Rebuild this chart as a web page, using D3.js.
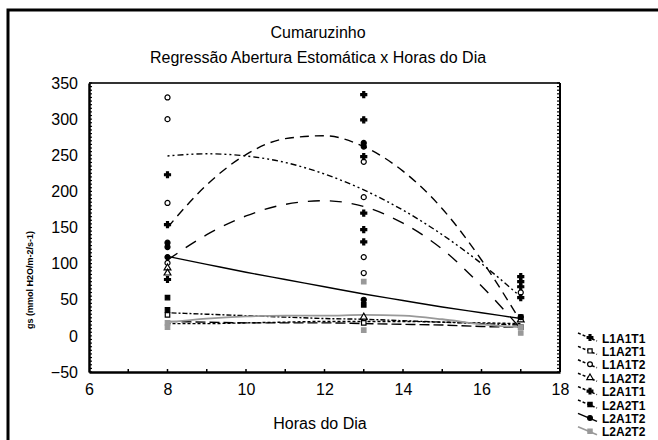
<!DOCTYPE html>
<html>
<head>
<meta charset="utf-8">
<script src="https://cdn.jsdelivr.net/npm/d3@7"></script>
<style>
  body { margin: 0; background: #fff; }
  text { font-family: "Liberation Sans", Arial, sans-serif; fill: #000; }
</style>
</head>
<body>
<script>
var hours = [8, 9, 10, 11, 12, 13, 14, 15, 16, 17];
var xTicks = [6, 8, 10, 12, 14, 16, 18];
var yTicks = [-50, 0, 50, 100, 150, 200, 250, 300, 350];
var names = ["L1A1T1", "L1A2T1", "L1A1T2", "L1A2T2", "L2A1T1", "L2A2T1", "L2A1T2", "L2A2T2"];

// regression curves (value at each hour)
var fitL1A1T1 = [150, 209, 251, 273, 277, 262, 228, 176, 105, 20];
var fitL1A2T1 = [32, 30, 28, 26, 24, 23, 21, 19, 17, 15];
var fitL1A1T2 = [249, 252, 249, 240, 224, 202, 174, 140, 100, 54];
var fitL1A2T2 = [20, 19, 18, 18, 18, 17, 16, 15, 13, 12];
var fitL2A1T1 = [105, 140, 166, 182, 187, 179, 156, 120, 69, 10];
var fitL2A2T1 = [17, 17, 18, 19, 20, 20, 20, 19, 18, 17];
var fitL2A1T2 = [110, 99, 88, 78, 68, 58, 49, 40, 32, 24];
var fitL2A2T2 = [19, 24, 27, 28, 28, 29, 28, 23, 16, 12];

// observations [hour, gs]
var obsL1A1T1 = [[8, 154], [8, 78], [13, 334], [13, 299], [13, 130], [17, 82], [17, 68]];
var obsL1A2T1 = [[8, 29], [13, 18], [17, 12]];
var obsL1A1T2 = [[8, 330], [8, 300], [8, 184], [8, 101], [13, 241], [13, 192], [13, 109], [13, 87], [17, 60]];
var obsL1A2T2 = [[8, 94], [8, 87], [13, 26], [17, 22]];
var obsL2A1T1 = [[8, 223], [13, 248], [13, 170], [13, 147], [17, 75], [17, 53]];
var obsL2A2T1 = [[8, 53], [8, 36], [13, 43], [17, 26]];
var obsL2A1T2 = [[8, 129], [8, 123], [8, 109], [13, 267], [13, 262], [13, 50], [17, 26]];
var obsL2A2T2 = [[8, 18], [8, 12], [13, 75], [13, 8], [17, 12], [17, 4]];

var fits = [fitL1A1T1, fitL1A2T1, fitL1A1T2, fitL1A2T2, fitL2A1T1, fitL2A2T1, fitL2A1T2, fitL2A2T2];
var obs = [obsL1A1T1, obsL1A2T1, obsL1A1T2, obsL1A2T2, obsL2A1T1, obsL2A2T1, obsL2A1T2, obsL2A2T2];

// look of each series
var dashes = ["9,6", "2,2,5,2", "2,3,2,3,6,3", "10,4", "12,10", "3,2", null, null];
var colors = ["#000", "#000", "#000", "#000", "#000", "#000", "#000", "#999"];
var symbols = [d3.symbolCross, d3.symbolSquare, d3.symbolCircle, d3.symbolTriangle,
               d3.symbolCross, d3.symbolSquare, d3.symbolCircle, d3.symbolSquare];
var filled = [true, false, false, false, true, true, true, true];

var W = 658, H = 440;
var margin = {left: 89, right: 98, top: 83, bottom: 68};

var svg = d3.select("body").append("svg")
  .attr("width", W)
  .attr("height", H);

// outer frame
svg.append("rect")
  .attr("x", 8).attr("y", 10)
  .attr("width", W + 20).attr("height", H + 20)
  .attr("fill", "none")
  .attr("stroke", "#000")
  .attr("stroke-width", 3);

var x = d3.scaleLinear().domain([6, 18]).range([margin.left, W - margin.right]);
var y = d3.scaleLinear().domain([-50, 350]).range([H - margin.bottom, margin.top]);

// titles
svg.append("text").attr("x", 318).attr("y", 38)
  .attr("text-anchor", "middle").style("font-size", "16px").text("Cumaruzinho");
svg.append("text").attr("x", 318).attr("y", 63)
  .attr("text-anchor", "middle").style("font-size", "16px")
  .text("Regressão Abertura Estomática x Horas do Dia");

// box
svg.append("line")
  .attr("x1", x(6)).attr("x2", x(18)).attr("y1", y(350)).attr("y2", y(350))
  .attr("stroke", "#333").attr("stroke-width", 2);
svg.append("line")
  .attr("x1", x(18)).attr("x2", x(18)).attr("y1", y(350)).attr("y2", y(-50))
  .attr("stroke", "#000").attr("stroke-width", 2);

// y axis, minor ticks inside
var minor = d3.range(-50, 351, 5);
svg.append("g")
  .selectAll("line").data(minor).join("line")
  .attr("x1", x(6)).attr("x2", x(6) + 3)
  .attr("y1", function(d) { return y(d); }).attr("y2", function(d) { return y(d); })
  .attr("stroke", "#000").attr("stroke-width", 1.2);
svg.append("g")
  .selectAll("line").data(minor).join("line")
  .attr("x1", x(18)).attr("x2", x(18) - 3)
  .attr("y1", function(d) { return y(d); }).attr("y2", function(d) { return y(d); })
  .attr("stroke", "#000").attr("stroke-width", 1.2);

var yAxis = svg.append("g")
  .attr("transform", "translate(" + x(6) + ",0)")
  .call(d3.axisLeft(y).tickValues(yTicks).tickSize(0).tickPadding(11));
yAxis.select(".domain").attr("stroke-width", 2.5);
yAxis.selectAll("text").style("font-size", "16px").style("font-family", "Liberation Sans, Arial, sans-serif");

// x axis, ticks pointing up
var xAxis = svg.append("g")
  .attr("transform", "translate(0," + y(-50) + ")")
  .call(d3.axisBottom(x).tickValues(xTicks).tickSize(0).tickPadding(12));
xAxis.select(".domain").attr("stroke-width", 2.5);
xAxis.selectAll("text").style("font-size", "16px").style("font-family", "Liberation Sans, Arial, sans-serif");
svg.append("g")
  .selectAll("line").data(d3.range(7, 18)).join("line")
  .attr("x1", function(d) { return x(d); }).attr("x2", function(d) { return x(d); })
  .attr("y1", y(-50)).attr("y2", y(-50) - 3)
  .attr("stroke", "#000").attr("stroke-width", 1.5);

svg.append("text").attr("x", 320).attr("y", 429)
  .attr("text-anchor", "middle").style("font-size", "16px").text("Horas do Dia");

svg.append("text")
  .attr("transform", "translate(33,280) rotate(-90)")
  .attr("text-anchor", "middle")
  .style("font-size", "9px").style("font-weight", "bold")
  .text("gs (mmol H2O/m-2/s-1)");

// fitted curves
var line = d3.line()
  .x(function(d, i) { return x(hours[i]); })
  .y(function(d) { return y(d); })
  .curve(d3.curveMonotoneX);

var plot = svg.append("g");
fits.forEach(function(f, i) {
  plot.append("path")
    .datum(f)
    .attr("fill", "none")
    .attr("stroke", colors[i])
    .attr("stroke-width", i == 7 ? 1.8 : 1.4)
    .attr("stroke-dasharray", dashes[i])
    .attr("d", line);
});

// observed points
obs.forEach(function(o, i) {
  plot.append("g").selectAll("path").data(o).join("path")
    .attr("transform", function(d) { return "translate(" + x(d[0]) + "," + y(d[1]) + ")"; })
    .attr("d", d3.symbol().type(symbols[i]).size(20))
    .attr("fill", filled[i] ? colors[i] : "#fff")
    .attr("stroke", colors[i])
    .attr("stroke-width", 1.2);
});

// legend
var leg = svg.append("g");
names.forEach(function(n, i) {
  var ly = 338 + i * 13.4;
  leg.append("line")
    .attr("x1", 578).attr("x2", 597).attr("y1", ly - 5).attr("y2", ly + 3)
    .attr("stroke", colors[i]).attr("stroke-width", 1.5)
    .attr("stroke-dasharray", i == 6 || i == 7 ? null : "3,2");
  leg.append("path")
    .attr("transform", "translate(590," + (ly - 0.5) + ")")
    .attr("d", d3.symbol().type(symbols[i]).size(18))
    .attr("fill", filled[i] ? colors[i] : "#fff")
    .attr("stroke", colors[i]).attr("stroke-width", 1.2);
  leg.append("text")
    .attr("x", 602).attr("y", ly + 4.5)
    .style("font-size", "12px").style("font-weight", "bold")
    .text(n);
});
</script>
</body>
</html>
